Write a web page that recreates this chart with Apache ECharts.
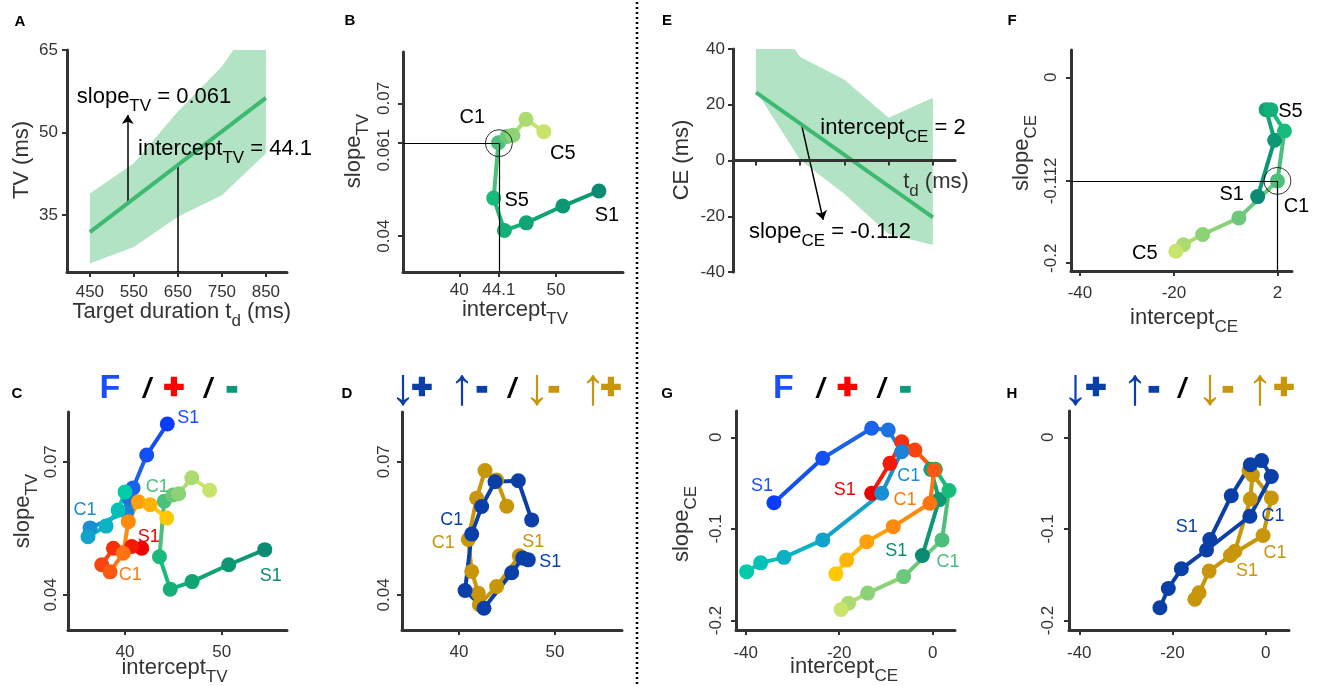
<!DOCTYPE html>
<html>
<head>
<meta charset="utf-8">
<script src="https://cdn.jsdelivr.net/npm/echarts@6.0.0/dist/echarts.min.js"></script>
<style>
  html, body { margin: 0; padding: 0; background: #fff; }
  #main { width: 1317px; height: 686px; }
</style>
</head>
<body>
<div id="main"></div>
<script>
var FONT = '"Liberation Sans", Arial, sans-serif';
var AXIS = '#333';
var BAND = '#b3e3c5';
var FIT = '#3dba6f';

// ---- A / E : TV and CE over target durations
var td = [450, 550, 650, 750, 850];
var tvLower = [26.2, 29.2, 34.7, 38.6, 46.2];
var tvUpper = [38.9, 44.4, 53.8, 62.0, 73.5];
var tvFit = [[450, 31.9], [850, 56.3]];
var ceLower = [25.0, 0.2, -12.0, -26.4, -30.3];
var ceUpper = [60.0, 37.1, 29.0, 15.3, 22.5];
var ceFit = [[450, 24.4], [850, -20.4]];

// annotation guides (data units)
var tvSlopeArrow = [[536, 37.1], [536, 53.2]];
var tvInterceptGuide = [[650, 24.64], [650, 44.1]];
var ceSlopeArrow = [[553, 12.9], [602, -21.3]];
var tvCross = [44.1, 0.061];
var ceCross = [2, -0.112];

// ---- trajectories, order S1..S5, C1..C5
var tvGreenX = [54.45, 50.72, 46.94, 44.67, 43.56, 44.05, 44.95, 45.55, 46.9, 48.75];
var tvGreenY = [0.0502, 0.0468, 0.0430, 0.0413, 0.0486, 0.0611, 0.0625, 0.0628, 0.0664, 0.0636];
var tvBlueX = [44.37, 42.24, 40.83, 40.5, 40.18, 36.38, 36.17, 38.04, 39.28, 40.0];
var tvBlueY = [0.0785, 0.0715, 0.0641, 0.0614, 0.0587, 0.0551, 0.0531, 0.0555, 0.0591, 0.0632];
var tvRedX = [41.73, 40.69, 38.79, 37.59, 38.45, 39.82, 40.34, 41.38, 42.59, 44.31];
var tvRedY = [0.0505, 0.0509, 0.0505, 0.0468, 0.0452, 0.0494, 0.0565, 0.0610, 0.0603, 0.0573];
var tvNavyX = [47.22, 46.63, 45.49, 42.60, 40.63, 41.32, 42.36, 43.75, 46.18, 47.57];
var tvNavyY = [0.0479, 0.0483, 0.0450, 0.0370, 0.0410, 0.0537, 0.0599, 0.0655, 0.0657, 0.0569];
var tvGoldX = [46.28, 43.92, 42.12, 42.01, 41.32, 40.97, 41.84, 42.71, 43.92, 44.97];
var tvGoldY = [0.0488, 0.0419, 0.0378, 0.0404, 0.0453, 0.0525, 0.0618, 0.0680, 0.0659, 0.0600];

var ceGreenX = [-2.2, 1.4, -0.4, 0.6, 3.5, 2.0, -6.2, -13.9, -18.0, -19.6];
var ceGreenY = [-0.129, -0.068, -0.035, -0.035, -0.058, -0.112, -0.152, -0.170, -0.181, -0.188];
var ceBlueX = [-33.95, -23.53, -13.05, -9.5, -6.63, -10.9, -23.5, -31.8, -36.8, -39.8];
var ceBlueY = [-0.0714, -0.0229, 0.0098, 0.008, -0.0157, -0.0611, -0.112, -0.131, -0.137, -0.1466];
var ceRedX = [-13.05, -9.13, -6.63, -3.79, 0.34, -0.58, -8.43, -14.1, -18.4, -20.7];
var ceRedY = [-0.0611, -0.0284, -0.0048, -0.0139, -0.0357, -0.072, -0.0975, -0.114, -0.134, -0.149];
var ceNavyX = [-12.0, -7.4, -3.3, -0.9, 1.2, -3.4, -12.7, -18.1, -20.9, -22.7];
var ceNavyY = [-0.1116, -0.0638, -0.030, -0.0254, -0.0428, -0.0862, -0.123, -0.1435, -0.165, -0.186];
var ceGoldX = [-6.6, -3.29, -2.86, -3.57, 1.21, -0.57, -7.57, -12.14, -14.3, -15.2];
var ceGoldY = [-0.1243, -0.0674, -0.041, -0.0362, -0.0663, -0.1072, -0.129, -0.146, -0.1696, -0.1768];

// tick values
var tvTicksX = [40, 50], tvTicksY = [0.04, 0.07];
var ceTicksX = [-40, -20, 0], ceTicksY = [-0.2, -0.1, 0];

// colours per step
var greenSteps = ['#0b8c72','#0d9873','#10a474','#14b077','#18bb79','#4cc07b','#6cc979','#8cd276','#abdb71','#c8e46c'];
var blueSteps = ['#0a3cff','#1350f4','#1a62ea','#1c72e0','#1e82d8','#1a90d4','#12a2cc','#0ab2c2','#05c0b6','#00ccaa'];
var redSteps = ['#f00000','#f41a08','#f7300c','#fa4410','#fd5812','#ff7410','#ff8a0c','#ffa008','#ffb404','#ffc800'];
var NAVY = '#0a3fa8', GOLD = '#c8960a';
function flat(c) { var a = []; for (var i = 0; i < 10; i++) a.push(c); return a; }

var chart = echarts.init(document.getElementById('main'));
var xAxes = [], yAxes = [], series = [], graphics = [];

var grids = [
  {left: 67, top: 50, width: 220, height: 222},    // A
  {left: 403, top: 52, width: 220, height: 220},   // B
  {left: 733, top: 49, width: 222, height: 223},   // E
  {left: 1071, top: 50, width: 221, height: 221},  // F
  {left: 68, top: 412, width: 219, height: 218},   // C
  {left: 402, top: 412, width: 220, height: 218},  // D
  {left: 736, top: 411, width: 219, height: 219},  // G
  {left: 1069, top: 411, width: 220, height: 219}  // H
];

function labelStyle(shift) {
  // shift: {value: [padRight, padLeft]} nudges rotated labels apart along the axis
  var rich = {}, map = {};
  Object.keys(shift || {}).forEach(function (k, n) {
    var key = 'k' + n;
    map[k] = key;
    rich[key] = {color: AXIS, fontSize: 17, fontFamily: FONT, padding: [0, shift[k][0], 0, shift[k][1]]};
  });
  return {
    rich: rich,
    formatter: function (v) {
      var s = String(+v.toFixed(4));
      return map[s] ? '{' + map[s] + '|' + s + '}' : s;
    }
  };
}

function addAxes(i, xr, yr, xt, yt, o) {
  o = o || {};
  xAxes.push({
    gridIndex: i, type: 'value', min: xr[0], max: xr[1], z: o.z || 0,
    axisLine: {show: true, onZero: !!o.xOnZero, lineStyle: {color: AXIS, width: 3}},
    axisTick: {show: true, customValues: xt, length: 5, lineStyle: {color: AXIS, width: 2}},
    axisLabel: {show: o.xLabels !== false, customValues: xt, color: AXIS, fontSize: 17, fontFamily: FONT, margin: o.xm || 12},
    splitLine: {show: false}
  });
  var ls = labelStyle(o.shift);
  yAxes.push({
    gridIndex: i, type: 'value', min: yr[0], max: yr[1],
    axisLine: {show: true, onZero: false, lineStyle: {color: AXIS, width: 3}},
    axisTick: {show: true, customValues: yt, length: 5, lineStyle: {color: AXIS, width: 2}},
    axisLabel: {customValues: yt, color: AXIS, fontSize: 17, fontFamily: FONT, margin: o.ym || 10,
      rotate: o.yRot ? 90 : 0, formatter: ls.formatter, rich: ls.rich},
    splitLine: {show: false}
  });
}

addAxes(0, [398, 898], [24.64, 65], td, [35, 50, 65], {xm: 12, ym: 9});
addAxes(1, [34.18, 56.94], [0.0319, 0.0816], [40, 44.1, 50], [0.04, 0.061, 0.07],
  {yRot: true, xm: 10, ym: 10, shift: {'0.061': [14, 0], '0.07': [0, 10]}});
addAxes(2, [398, 900], [-40, 40], td, [-40, -20, 0, 20, 40], {xOnZero: true, xLabels: false, ym: 8, z: 5});
addAxes(3, [-41.9, 5.1], [-0.2094, 0.0295], [-40, -20, 2], [-0.2, -0.112, 0],
  {yRot: true, xm: 14, ym: 11, shift: {'-0.2': [0, 8]}});
addAxes(4, [34.1, 56.75], [0.0321, 0.0812], tvTicksX, tvTicksY, {yRot: true, xm: 14, ym: 8});
addAxes(5, [34.06, 56.98], [0.0321, 0.0812], tvTicksX, tvTicksY, {yRot: true, xm: 14, ym: 9});
addAxes(6, [-42.07, 4.78], [-0.2103, 0.0287], ceTicksX, ceTicksY, {yRot: true, xm: 15, ym: 11});
addAxes(7, [-42.2, 4.99], [-0.2103, 0.0287], ceTicksX, ceTicksY, {yRot: true, xm: 15, ym: 12});

function band(i, lower, upper) {
  series.push({
    type: 'custom', xAxisIndex: i, yAxisIndex: i, silent: true, z: 1,
    data: [[td[0], lower[0]]],
    renderItem: function (params, api) {
      var pts = [], k;
      for (k = 0; k < td.length; k++) pts.push(api.coord([td[k], upper[k]]));
      for (k = td.length - 1; k >= 0; k--) pts.push(api.coord([td[k], lower[k]]));
      var cs = params.coordSys;
      return {
        type: 'group',
        clipPath: {type: 'rect', shape: {x: cs.x, y: cs.y, width: cs.width, height: cs.height}},
        children: [{type: 'polygon', shape: {points: pts}, style: {fill: BAND}}]
      };
    }
  });
}
function fitLine(i, pts) {
  series.push({type: 'line', xAxisIndex: i, yAxisIndex: i, symbol: 'none', silent: true, z: 4,
    lineStyle: {color: FIT, width: 4}, data: pts});
}
function guide(i, coords, arrow, w) {
  series.push({type: 'lines', coordinateSystem: 'cartesian2d', xAxisIndex: i, yAxisIndex: i, silent: true, z: 4,
    symbol: arrow ? ['none', 'arrow'] : ['none', 'none'], symbolSize: 9,
    lineStyle: {color: '#000', width: w || 1.5, opacity: 1, curveness: 0},
    data: [{coords: coords}]});
}
function ring(i, pt) {
  series.push({type: 'scatter', xAxisIndex: i, yAxisIndex: i, silent: true, z: 6, symbolSize: 27,
    itemStyle: {color: 'rgba(0,0,0,0)', borderColor: '#000', borderWidth: 1}, data: [pt]});
}
// labels: [index, text, dx, dy, colour]
function trajectory(i, xs, ys, colors, labels, fs) {
  var segs = [], pts = [];
  for (var k = 0; k < xs.length - 1; k++) {
    segs.push({coords: [[xs[k], ys[k]], [xs[k + 1], ys[k + 1]]], lineStyle: {color: colors[k + 1]}});
  }
  for (k = 0; k < xs.length; k++) pts.push({value: [xs[k], ys[k]], itemStyle: {color: colors[k]}});
  (labels || []).forEach(function (l) {
    pts[l[0]].label = {show: true, position: 'inside', formatter: l[1], offset: [l[2], l[3]],
      color: l[4], fontSize: fs || 18, fontFamily: FONT};
  });
  series.push({type: 'lines', coordinateSystem: 'cartesian2d', xAxisIndex: i, yAxisIndex: i, silent: true,
    lineStyle: {width: 4, opacity: 1, curveness: 0}, data: segs});
  series.push({type: 'scatter', xAxisIndex: i, yAxisIndex: i, silent: true, symbolSize: 15,
    itemStyle: {opacity: 1}, data: pts});
}

// A
band(0, tvLower, tvUpper);
fitLine(0, tvFit);
guide(0, tvSlopeArrow, true);
guide(0, tvInterceptGuide, false);
// E
band(2, ceLower, ceUpper);
fitLine(2, ceFit);
guide(2, ceSlopeArrow, true);
// B
guide(1, [[34.18, tvCross[1]], tvCross], false, 1.2);
guide(1, [[tvCross[0], 0.0319], tvCross], false, 1.2);
trajectory(1, tvGreenX, tvGreenY, greenSteps,
  [[0, 'S1', 8, 24, '#000'], [4, 'S5', 23, 2, '#000'], [5, 'C1', -26, -25, '#000'], [9, 'C5', 19, 22, '#000']], 20);
ring(1, tvCross);
// F
guide(3, [[-41.9, ceCross[1]], ceCross], false, 1.2);
guide(3, [[ceCross[0], -0.2094], ceCross], false, 1.2);
trajectory(3, ceGreenX, ceGreenY, greenSteps,
  [[0, 'S1', -26, -2, '#000'], [4, 'S5', 6, -19, '#000'], [5, 'C1', 19, 26, '#000'], [9, 'C5', -31, 2, '#000']], 20);
ring(3, ceCross);
// C
trajectory(4, tvGreenX, tvGreenY, greenSteps, [[0, 'S1', 6, 26, '#0b8c72'], [5, 'C1', -7, -14, '#4cc07b']]);
trajectory(4, tvBlueX, tvBlueY, blueSteps, [[0, 'S1', 21, -6, '#1a4fff'], [5, 'C1', -5, -18, '#1a8ed4']]);
trajectory(4, tvRedX, tvRedY, redSteps, [[0, 'S1', 7, -11, '#f00000'], [5, 'C1', 7, 22, '#ff7a10']]);
// D
trajectory(5, tvGoldX, tvGoldY, flat(GOLD), [[0, 'S1', 14, -14, GOLD], [5, 'C1', -25, 4, GOLD]]);
trajectory(5, tvNavyX, tvNavyY, flat(NAVY), [[0, 'S1', 22, 2, NAVY], [5, 'C1', -20, -14, NAVY]]);
// G
trajectory(6, ceGreenX, ceGreenY, greenSteps, [[0, 'S1', -26, -4, '#0b8c72'], [5, 'C1', 6, 22, '#4cc07b']]);
trajectory(6, ceRedX, ceRedY, redSteps, [[0, 'S1', -27, -3, '#f00000'], [5, 'C1', -25, -3, '#ff7a10']]);
trajectory(6, ceBlueX, ceBlueY, blueSteps, [[0, 'S1', -12, -17, '#1a4fff'], [5, 'C1', 27, -17, '#1a8ed4']]);
// H
trajectory(7, ceGoldX, ceGoldY, flat(GOLD), [[0, 'S1', 12, 20, GOLD], [5, 'C1', 12, 18, GOLD]]);
trajectory(7, ceNavyX, ceNavyY, flat(NAVY), [[0, 'S1', -23, -13, NAVY], [5, 'C1', 23, 0, NAVY]]);

// ---- texts
function richSub(color) {
  return {
    m: {fontSize: 22, fontFamily: FONT, fill: color, lineHeight: 24},
    s: {fontSize: 17, fontFamily: FONT, fill: color, lineHeight: 18, padding: [18, 0, 0, 0]}
  };
}
function txt(x, y, text, color, rot) {
  graphics.push({type: 'text', x: x, y: y, z: 100, rotation: rot ? Math.PI / 2 : 0,
    style: {text: text, rich: richSub(color), fontSize: 22, fontFamily: FONT, fill: color, align: 'center', verticalAlign: 'middle'}});
}
function glyph(x, y, t, color, size, o) {
  o = o || {};
  graphics.push({type: 'text', x: x, y: y, z: 100,
    style: {text: t, fill: color, fontSize: size, fontFamily: o.family || FONT, fontWeight: o.weight || 'normal',
      fontStyle: o.italic ? 'italic' : 'normal', stroke: o.stroke ? color : null, lineWidth: o.stroke || 0,
      align: 'center', verticalAlign: 'middle'}});
}

// panel letters
[['A', 20, 22], ['B', 350, 21], ['E', 667, 21], ['F', 1012, 21],
 ['C', 17, 394], ['D', 347, 394], ['G', 667, 394], ['H', 1012, 394]].forEach(function (p) {
  glyph(p[1], p[2], p[0], '#000', 15, {weight: 'bold'});
});

// axis names
txt(22, 160, '{m|TV (ms)}', AXIS, true);
txt(181.7, 312, '{m|Target duration t}{s|d}{m| (ms)}', AXIS);
txt(354, 151, '{m|slope}{s|TV}', AXIS, true);
txt(515, 310, '{m|intercept}{s|TV}', AXIS);
txt(682, 160, '{m|CE (ms)}', AXIS, true);
txt(1022, 153, '{m|slope}{s|CE}', AXIS, true);
txt(1184, 318, '{m|intercept}{s|CE}', AXIS);
txt(23, 511, '{m|slope}{s|TV}', AXIS, true);
txt(174.5, 668, '{m|intercept}{s|TV}', AXIS);
txt(682, 524, '{m|slope}{s|CE}', AXIS, true);
txt(844, 667, '{m|intercept}{s|CE}', AXIS);

// annotations
txt(154, 97, '{m|slope}{s|TV}{m| = 0.061}', '#000');
txt(225, 149, '{m|intercept}{s|TV}{m| = 44.1}', '#000');
txt(936, 182, '{m|t}{s|d}{m| (ms)}', AXIS);
txt(893, 128, '{m|intercept}{s|CE}{m| = 2}', '#000');
txt(830, 232, '{m|slope}{s|CE}{m| = -0.112}', '#000');

// titles C / G
[0, 673.5].forEach(function (dx) {
  glyph(110 + dx, 389, 'F', '#1a4fff', 34, {weight: 'bold'});
  glyph(147 + dx, 389, '/', '#000', 28, {weight: 'bold', italic: true});
  glyph(174 + dx, 389, '+', '#ff0000', 34, {weight: 'bold', stroke: 2.5});
  glyph(208 + dx, 389, '/', '#000', 28, {weight: 'bold', italic: true});
  glyph(232 + dx, 389, '-', '#0b9a7a', 28, {weight: 'bold', stroke: 3.5});
});
// titles D / H
[[403, 422, 462, 482, 512, 537, 554, 593, 611], [1075.5, 1096, 1135, 1154, 1182, 1210, 1228, 1260, 1284]].forEach(function (p) {
  glyph(p[0], 390, '\u2193', NAVY, 52);
  glyph(p[1], 389, '+', NAVY, 34, {weight: 'bold', stroke: 2.5});
  glyph(p[2], 390, '\u2191', NAVY, 52);
  glyph(p[3], 389, '-', NAVY, 28, {weight: 'bold', stroke: 3.5});
  glyph(p[4], 389, '/', '#000', 28, {weight: 'bold', italic: true});
  glyph(p[5], 390, '\u2193', GOLD, 52);
  glyph(p[6], 389, '-', GOLD, 28, {weight: 'bold', stroke: 3.5});
  glyph(p[7], 390, '\u2191', GOLD, 52);
  glyph(p[8], 389, '+', GOLD, 34, {weight: 'bold', stroke: 2.5});
});

// dotted separator
graphics.push({type: 'line', z: 100, shape: {x1: 637, y1: 2, x2: 637, y2: 686},
  style: {stroke: '#000', lineWidth: 2.5, lineDash: [2, 3]}});

chart.setOption({
  animation: false,
  backgroundColor: '#fff',
  grid: grids,
  xAxis: xAxes,
  yAxis: yAxes,
  series: series,
  graphic: graphics
});
</script>
</body>
</html>
